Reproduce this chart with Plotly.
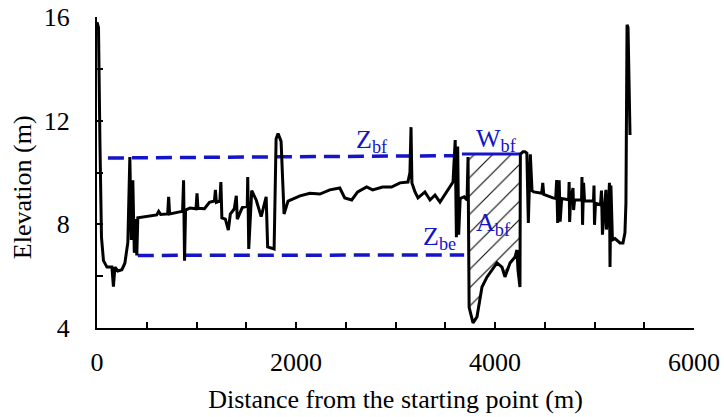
import plotly.graph_objects as go

# Cross-section profile: distance (m) and elevation (m)
dist = [0, 15, 30, 45, 65, 100, 150, 165, 180, 210, 250, 280, 310, 315, 330, 345, 360, 375,
        390, 400, 410, 600, 620, 640, 710, 720, 730, 830, 860, 870, 880, 890, 935, 995, 1005,
        1015, 1080, 1130, 1180, 1190, 1200, 1235, 1245, 1255, 1290, 1320, 1340, 1380, 1400,
        1410, 1460, 1510, 1515, 1525, 1555, 1600, 1650, 1700, 1715, 1780, 1800, 1820, 1850,
        1880, 1920, 2040, 2140, 2240, 2340, 2440, 2490, 2560, 2620, 2710, 2770, 2870, 2960,
        3045, 3125, 3145, 3156, 3165, 3196, 3226, 3296, 3347, 3397, 3447, 3518, 3578, 3600,
        3612, 3625, 3635, 3650, 3690, 3719, 3729, 3740, 3779, 3819, 3869, 3920, 3970, 4020,
        4070, 4100, 4151, 4201, 4221, 4231, 4251, 4255, 4281, 4300, 4320, 4335, 4355, 4372,
        4390, 4470, 4480, 4490, 4583, 4610, 4620, 4630, 4645, 4655, 4670, 4740, 4745, 4750,
        4760, 4784, 4790, 4800, 4870, 4874, 4880, 4890, 4900, 4990, 4995, 5000, 5010, 5060,
        5070, 5080, 5100, 5115, 5120, 5140, 5150, 5156, 5165, 5180, 5206, 5256, 5286, 5306,
        5316, 5327, 5337, 5357]
elev = [15.8, 15.6, 11.0, 7.5, 6.6, 6.35, 6.35, 5.6, 6.35, 6.2, 6.25, 6.5, 7.3, 7.9, 10.6,
        7.4, 9.7, 6.9, 8.2, 6.8, 8.25, 8.36, 8.5, 8.38, 8.4, 9.06, 8.4, 8.48, 8.5, 9.7, 6.6,
        8.55, 8.63, 8.6, 9.2, 8.62, 8.6, 8.85, 8.9, 9.33, 8.85, 8.9, 9.63, 8.25, 8.2, 7.78,
        8.4, 8.6, 9.1, 8.2, 8.65, 8.7, 9.83, 7.05, 9.3, 8.94, 8.3, 9.06, 7.13, 7.05, 11.3,
        11.5, 11.2, 8.4, 8.9, 9.1, 9.2, 9.17, 9.33, 9.4, 9.02, 8.94, 9.25, 9.44, 9.33, 9.44,
        9.44, 9.6, 9.63, 10.0, 11.75, 9.6, 9.25, 9.02, 9.25, 8.94, 9.13, 8.86, 9.25, 9.63,
        11.25, 7.5, 11.0, 7.6, 9.0, 9.06, 8.94, 10.6, 4.8, 4.2, 4.43, 5.58, 5.97, 6.24, 6.51,
        6.35, 5.97, 6.51, 6.74, 7.01, 6.24, 5.58, 10.71, 10.8, 10.8, 10.75, 8.05, 10.7, 9.3,
        9.25, 9.2, 9.6, 9.15, 9.02, 9.0, 9.71, 8.05, 9.7, 8.1, 9.0, 8.95, 9.63, 8.09, 8.95,
        9.4, 8.55, 8.95, 8.94, 9.83, 7.98, 9.6, 8.9, 8.9, 9.5, 7.98, 8.82, 8.75, 9.3, 7.6,
        8.7, 9.33, 7.8, 8.5, 9.6, 6.35, 9.5, 7.4, 7.45, 7.28, 7.28, 7.67, 8.82, 15.7, 15.6,
        11.45]

# Reference levels
zbf_x = [110, 3630]
zbf_y = [10.56, 10.65]
zbe_x = [410, 3690]
zbe_y = [6.8, 6.82]
wbf_x = [3668, 4255]
wbf_y = [10.71, 10.71]
chan_left, chan_right = 3729, 4255

x_ticks = list(range(0, 6001, 500))
x_labels = [str(v) if v % 2000 == 0 else "" for v in x_ticks]
y_ticks = list(range(4, 17, 2))
y_labels = [str(v) if v % 4 == 0 else "" for v in y_ticks]

BLUE = "#1414c8"
FONT = "Liberation Serif, Times New Roman, serif"

# Hatched bankfull area polygon, built from the profile
bed = [(d, e) for d, e in zip(dist, elev) if chan_left < d < chan_right]
poly_x = [chan_left] + [b[0] for b in bed] + [chan_right, chan_left]
poly_y = [wbf_y[0]] + [b[1] for b in bed] + [wbf_y[0], wbf_y[0]]

fig = go.Figure()
fig.add_trace(go.Scatter(
    x=poly_x, y=poly_y, mode="lines", fill="toself",
    line=dict(width=0, color="rgba(0,0,0,0)"),
    fillcolor="white",
    fillpattern=dict(shape="/", fgcolor="black", bgcolor="white", fgopacity=1,
                     size=13, solidity=0.08),
    hoverinfo="skip", showlegend=False))
fig.add_trace(go.Scatter(x=zbf_x, y=zbf_y, mode="lines",
                         line=dict(color=BLUE, width=3.5, dash="16px,8px"), showlegend=False))
fig.add_trace(go.Scatter(x=zbe_x, y=zbe_y, mode="lines",
                         line=dict(color=BLUE, width=3.5, dash="16px,8px"), showlegend=False))
fig.add_trace(go.Scatter(x=wbf_x, y=wbf_y, mode="lines",
                         line=dict(color=BLUE, width=3), showlegend=False))
fig.add_trace(go.Scatter(x=dist, y=elev, mode="lines",
                         line=dict(color="black", width=3), showlegend=False))

ann_font = dict(family=FONT, size=26, color=BLUE)
for txt, ax, ay in [("Z<sub>bf</sub>", 2764, 11.2), ("W<sub>bf</sub>", 4010, 11.25),
                    ("A<sub>bf</sub>", 3980, 8.0), ("Z<sub>be</sub>", 3447, 7.47)]:
    fig.add_annotation(x=ax, y=ay, text=txt, showarrow=False, font=ann_font,
                       xanchor="center", yanchor="middle")

fig.add_annotation(x=-0.1256, y=0.453, xref="paper", yref="paper", text="Elevation (m)",
                   textangle=-90, showarrow=False, font=dict(family=FONT, size=26, color="black"),
                   xanchor="center", yanchor="middle")

fig.update_layout(
    width=724, height=417,
    margin=dict(l=97, r=30, t=17, b=89),
    paper_bgcolor="white", plot_bgcolor="white",
    font=dict(family=FONT, size=26, color="black"),
    xaxis=dict(range=[0, 6000], tickvals=x_ticks, ticktext=x_labels, ticks="inside",
               ticklen=6, tickwidth=1.5, tickcolor="black", showline=True, linewidth=2,
               linecolor="black", showgrid=False, zeroline=False, ticklabelstandoff=10,
               automargin=False,
               title=dict(text="Distance from the starting point (m)", standoff=14,
                          font=dict(family=FONT, size=26))),
    yaxis=dict(range=[4, 16], tickvals=y_ticks, ticktext=y_labels, ticks="inside",
               ticklen=6, tickwidth=1.5, tickcolor="black", showline=True, linewidth=2,
               linecolor="black", showgrid=False, zeroline=False, ticklabelstandoff=20,
               automargin=False),
)

fig.write_html("out.html")
